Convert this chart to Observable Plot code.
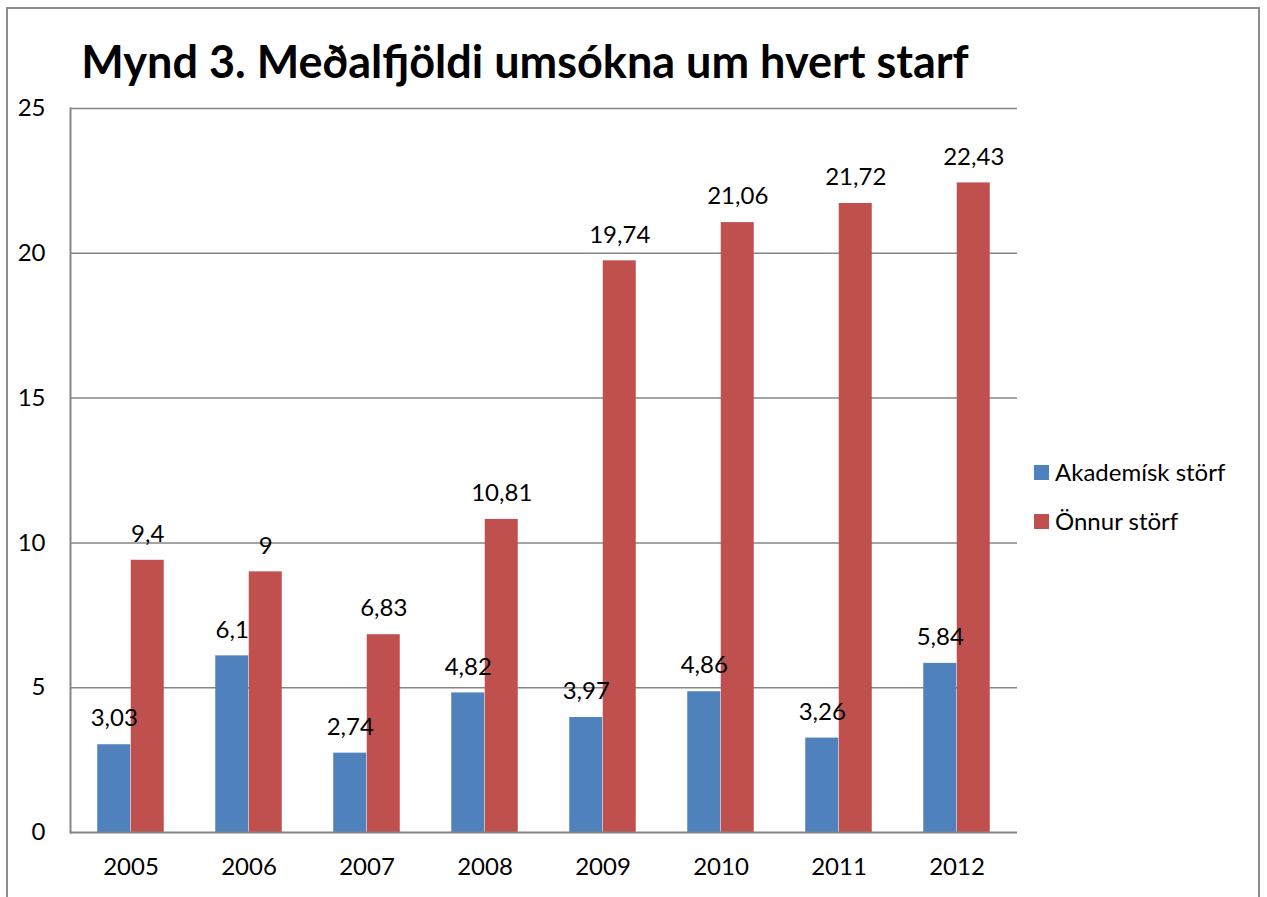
<!DOCTYPE html>
<html>
<head>
<meta charset="utf-8">
<script src="https://cdn.jsdelivr.net/npm/d3@7"></script>
<script src="https://cdn.jsdelivr.net/npm/@observablehq/plot@0.6"></script>
<style>
  html, body { margin: 0; padding: 0; background: #fff; }
  #wrap { position: relative; width: 1267px; height: 897px; overflow: hidden; font-family: Lato, "Open Sans", sans-serif; }
  #border { position: absolute; left: 6px; top: 7px; width: 1254px; height: 960px; border: 2px solid #8c8c8c; box-sizing: border-box; }
  #title { position: absolute; left: 0; width: 1050px; top: 34px; text-align: center; font-weight: bold; font-size: 45px; color: #000; white-space: nowrap; }
  #chart { position: absolute; left: 0; top: 0; }
  #legend { position: absolute; left: 1034px; top: 465px; font-size: 24px; color: #000; }
  .item { position: relative; height: 49px; }
  .sw { position: absolute; left: 0; top: 0; width: 15px; height: 15px; }
  .lab { position: absolute; left: 21px; top: -7px; white-space: nowrap; line-height: 28px; }
</style>
</head>
<body>
<div id="wrap">
  <div id="border"></div>
  <div id="chart"></div>
  <div id="title"></div>
  <div id="legend"></div>
</div>
<script>
const titleText = "Mynd 3. Meðalfjöldi umsókna um hvert starf";
const years = ["2005", "2006", "2007", "2008", "2009", "2010", "2011", "2012"];
const seriesNames = ["Akademísk störf", "Önnur störf"];
const akademisk = [3.03, 6.1, 2.74, 4.82, 3.97, 4.86, 3.26, 5.84];
const onnur = [9.4, 9, 6.83, 10.81, 19.74, 21.06, 21.72, 22.43];
const yTicks = [0, 5, 10, 15, 20, 25];
const colors = ["#4F81BD", "#C0504D"];

const rowsA = years.map((y, i) => ({year: y, value: akademisk[i]}));
const rowsB = years.map((y, i) => ({year: y, value: onnur[i]}));
const fmt = v => String(v).replace(".", ",");

const barW = 33.5;
const half = barW / 2;
const grid = "#868686";

const chart = Plot.plot({
  width: 1267,
  height: 897,
  marginLeft: 70,
  marginRight: 250,
  marginTop: 108,
  marginBottom: 65,
  style: {fontFamily: "Lato, 'Open Sans', sans-serif", fontSize: "24px", color: "#000", background: "transparent"},
  x: {domain: years, paddingInner: 1 - barW / (947 / 8), paddingOuter: (1 - barW / (947 / 8)) / 2, label: null},
  y: {domain: [0, 25], label: null},
  marks: [
    Plot.ruleY(yTicks.filter(d => d > 0), {stroke: grid, strokeWidth: 1.5}),
    Plot.barY(rowsA, {x: "year", y: "value", fill: colors[0], dx: -half}),
    Plot.barY(rowsB, {x: "year", y: "value", fill: colors[1], dx: half}),
    Plot.text(rowsA, {x: "year", y: "value", text: d => fmt(d.value), dx: -half, dy: -26, fontSize: 24, fill: "#000"}),
    Plot.text(rowsB, {x: "year", y: "value", text: d => fmt(d.value), dx: half, dy: -26, fontSize: 24, fill: "#000"}),
    Plot.frame({anchor: "left", stroke: grid, strokeWidth: 2}),
    Plot.ruleY([0], {stroke: grid, strokeWidth: 2}),
    Plot.axisY({ticks: yTicks, tickSize: 0, tickPadding: 25, tickFormat: d => String(d), fontSize: 24, label: null}),
    Plot.axisX({tickSize: 0, tickPadding: 25, fontSize: 24, label: null})
  ]
});
document.getElementById("chart").appendChild(chart);

document.getElementById("title").textContent = titleText;

const legend = document.getElementById("legend");
seriesNames.forEach((name, i) => {
  const item = document.createElement("div");
  item.className = "item";
  const sw = document.createElement("div");
  sw.className = "sw";
  sw.style.background = colors[i];
  const lab = document.createElement("div");
  lab.className = "lab";
  lab.textContent = name;
  item.appendChild(sw);
  item.appendChild(lab);
  legend.appendChild(item);
});
</script>
</body>
</html>
